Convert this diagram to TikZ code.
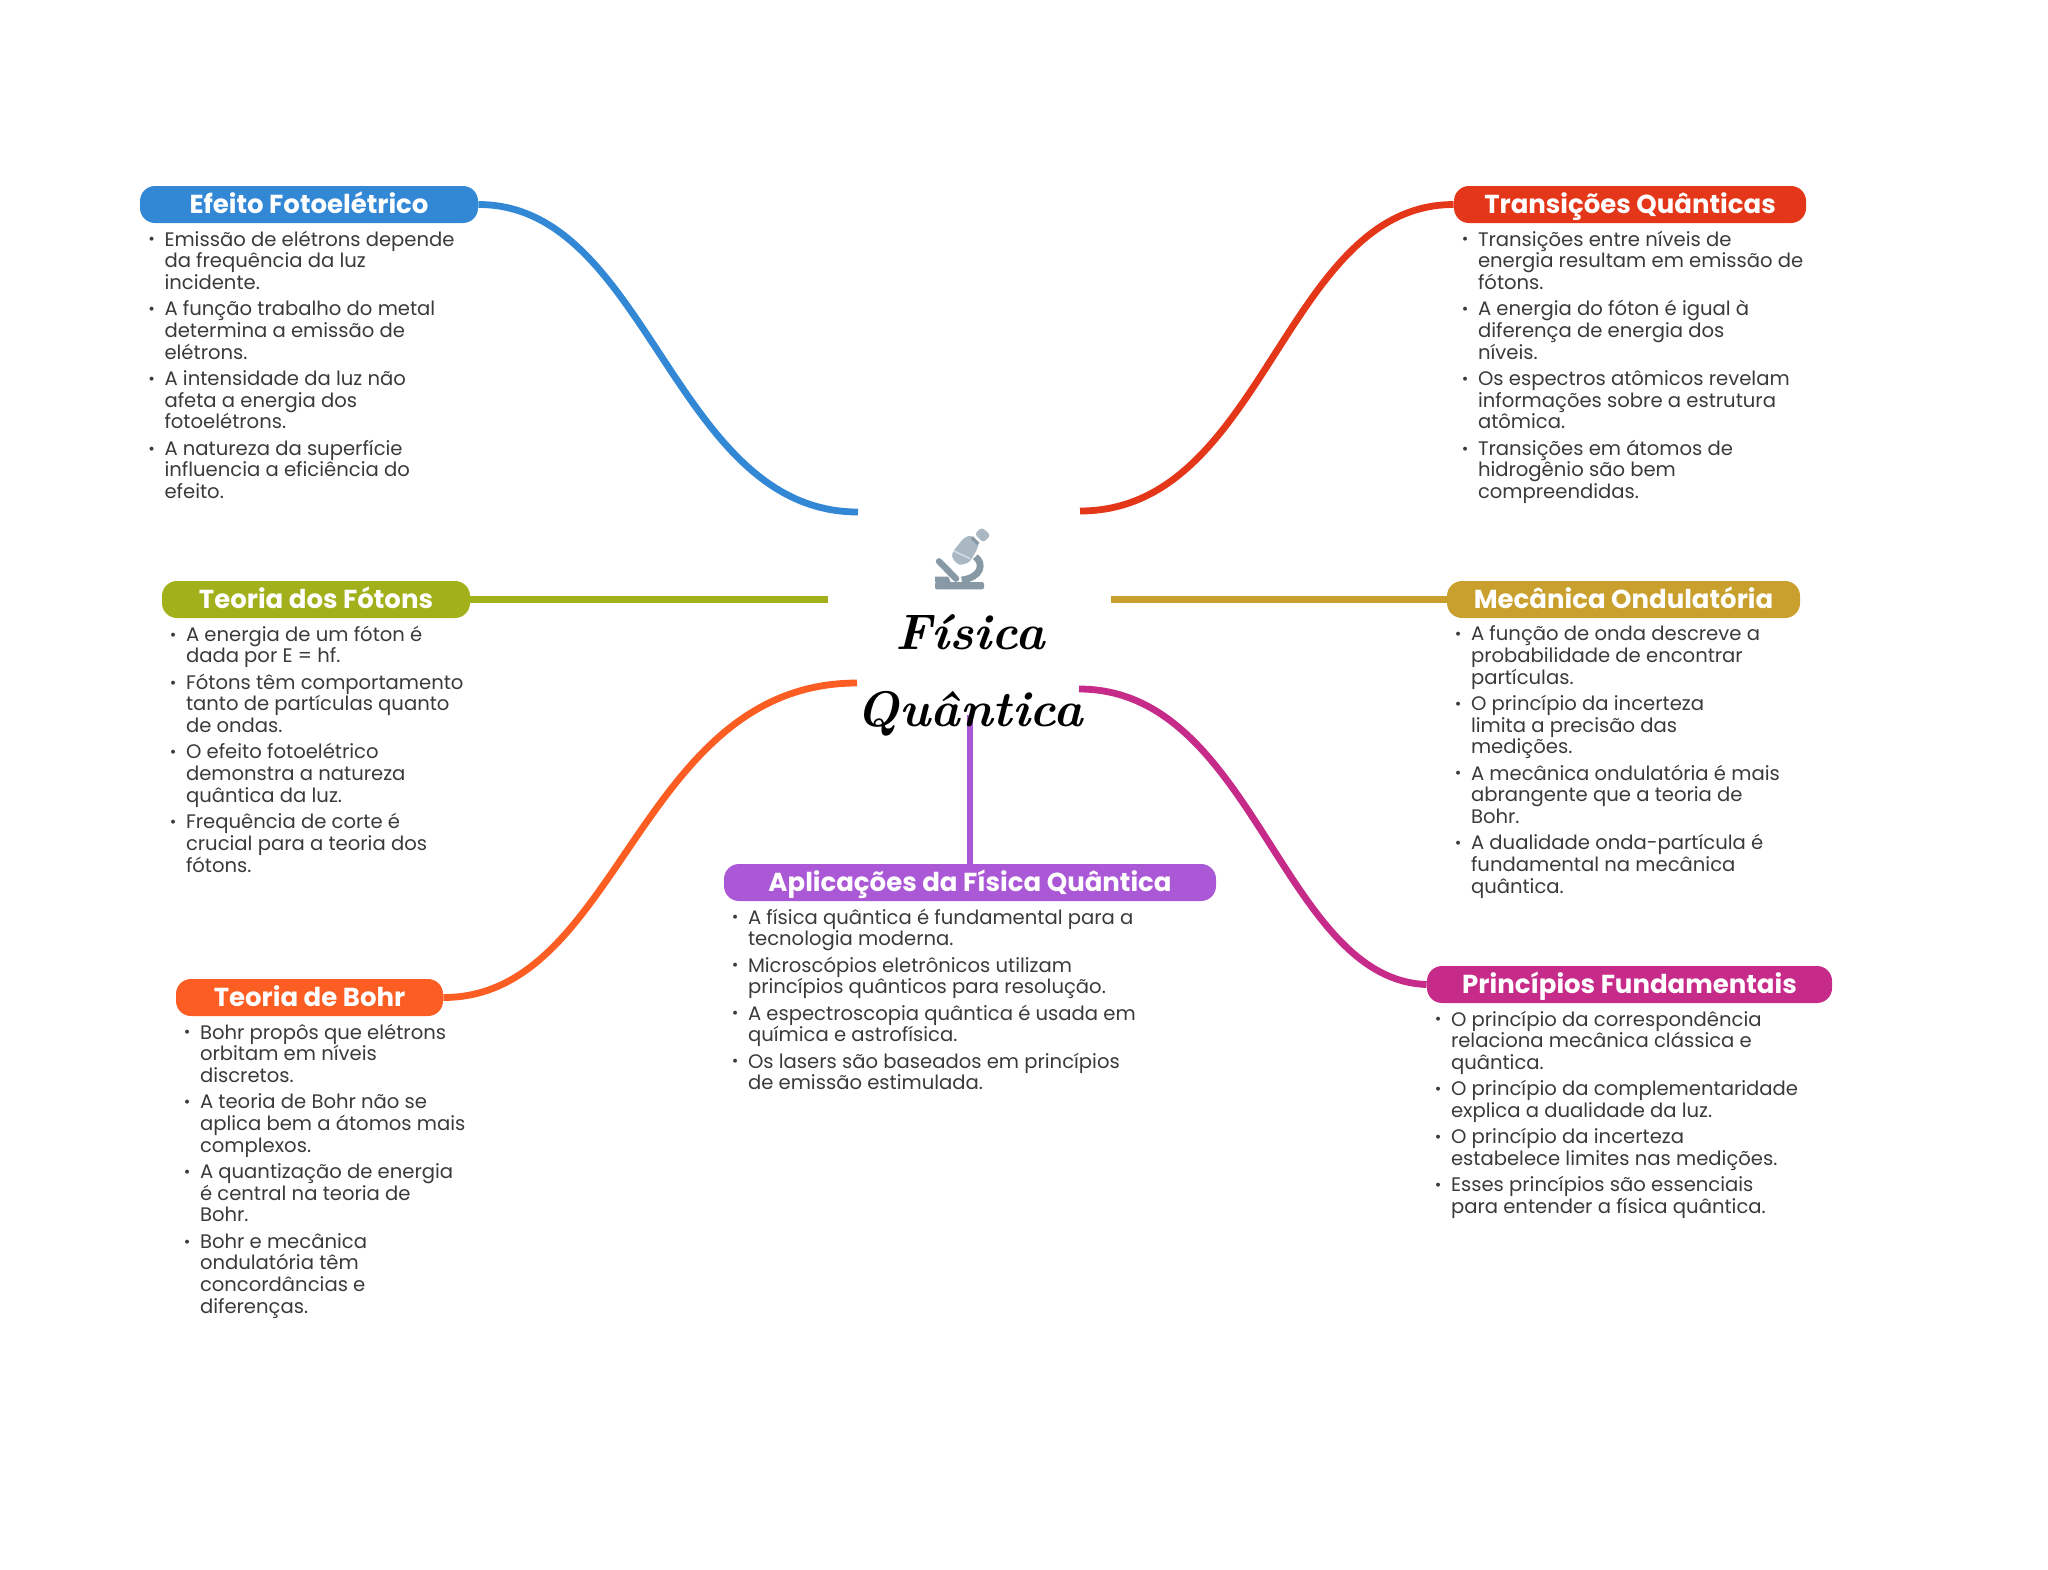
\documentclass[tikz,border=0pt]{standalone}
\usepackage{fontspec}
\newfontfamily\poppins{Poppins}
\usetikzlibrary{calc, positioning}
\definecolor{azul}{HTML}{3388D6}
\definecolor{vermelho}{HTML}{E4371A}
\definecolor{verde}{HTML}{A2B01B}
\definecolor{ouro}{HTML}{C9A02D}
\definecolor{laranja}{HTML}{FB5D22}
\definecolor{magenta2}{HTML}{C62B8A}
\definecolor{roxo}{HTML}{AB58D6}
\definecolor{corpo}{HTML}{3A3A3A}
\definecolor{tubo}{HTML}{A9B8C3}
\definecolor{base}{HTML}{8899A6}
\newcommand{\marca}{\leavevmode\llap{\raisebox{.6pt}{\fontsize{8}{8}\selectfont•}\hspace{4.8pt}}}
\begin{document}
\begin{tikzpicture}[x=0.5pt, y=-0.5pt]
    \tikzset{
      topico/.style={fill=#1, rounded corners=7.5pt, minimum height=18.5pt, inner sep=0pt,
        text height=10pt, text depth=1.5pt, text=white,
        font=\poppins\bfseries\fontsize{13}{13}\selectfont},
      lista/.style={anchor=north west, inner sep=0pt, align=left, text=corpo,
        font=\poppins\fontsize{9.8}{10.85}\selectfont},
      ligacao/.style={draw=#1, line width=3.4pt},
    }
    \useasboundingbox (0,0) rectangle (2048,1569);

    % topics
    \node [topico=azul, minimum width=169pt] (efeito) at (309,204.5) {Efeito Fotoelétrico};
    \node [topico=vermelho, minimum width=176pt] (transicoes) at (1630,204.5) {Transições Quânticas};
    \node [topico=verde, minimum width=154pt] (fotons) at (316,599.5) {Teoria dos Fótons};
    \node [topico=ouro, minimum width=176.5pt] (mecanica) at (1623.5,599.5) {Mecânica Ondulatória};
    \node [topico=roxo, minimum width=246pt] (aplicacoes) at (970,882.5) {Aplicações da Física Quântica};
    \node [topico=laranja, minimum width=133.5pt] (bohr) at (309.5,997.5) {Teoria de Bohr};
    \node [topico=magenta2, minimum width=202.5pt] (principios) at (1629.5,984.5) {Princípios Fundamentais};

    % lists
    \node [lista] (efeitoL) at ($(efeito.south west)+(24.5,7)$) {%
      \marca Emissão de elétrons depende\\ da frequência da luz\\ incidente.\\[2.3pt]
      \marca A função trabalho do metal\\ determina a emissão de\\ elétrons.\\[2.3pt]
      \marca A intensidade da luz não\\ afeta a energia dos\\ fotoelétrons.\\[2.3pt]
      \marca A natureza da superfície\\ influencia a eficiência do\\ efeito.};
    \node [lista] (transicoesL) at ($(transicoes.south west)+(24,7)$) {%
      \marca Transições entre níveis de\\ energia resultam em emissão de\\ fótons.\\[2.3pt]
      \marca A energia do fóton é igual à\\ diferença de energia dos\\ níveis.\\[2.3pt]
      \marca Os espectros atômicos revelam\\ informações sobre a estrutura\\ atômica.\\[2.3pt]
      \marca Transições em átomos de\\ hidrogênio são bem\\ compreendidas.};
    \node [lista] (fotonsL) at ($(fotons.south west)+(24,7)$) {%
      \marca A energia de um fóton é\\ dada por E = hf.\\[2.3pt]
      \marca Fótons têm comportamento\\ tanto de partículas quanto\\ de ondas.\\[2.3pt]
      \marca O efeito fotoelétrico\\ demonstra a natureza\\ quântica da luz.\\[2.3pt]
      \marca Frequência de corte é\\ crucial para a teoria dos\\ fótons.};
    \node [lista] (mecanicaL) at ($(mecanica.south west)+(24,7)$) {%
      \marca A função de onda descreve a\\ probabilidade de encontrar\\ partículas.\\[2.3pt]
      \marca O princípio da incerteza\\ limita a precisão das\\ medições.\\[2.3pt]
      \marca A mecânica ondulatória é mais\\ abrangente que a teoria de\\ Bohr.\\[2.3pt]
      \marca A dualidade onda-partícula é\\ fundamental na mecânica\\ quântica.};
    \node [lista] (aplicacoesL) at ($(aplicacoes.south west)+(24,7)$) {%
      \marca A física quântica é fundamental para a\\ tecnologia moderna.\\[2.3pt]
      \marca Microscópios eletrônicos utilizam\\ princípios quânticos para resolução.\\[2.3pt]
      \marca A espectroscopia quântica é usada em\\ química e astrofísica.\\[2.3pt]
      \marca Os lasers são baseados em princípios\\ de emissão estimulada.};
    \node [lista] (bohrL) at ($(bohr.south west)+(24,7)$) {%
      \marca Bohr propôs que elétrons\\ orbitam em níveis\\ discretos.\\[2.3pt]
      \marca A teoria de Bohr não se\\ aplica bem a átomos mais\\ complexos.\\[2.3pt]
      \marca A quantização de energia\\ é central na teoria de\\ Bohr.\\[2.3pt]
      \marca Bohr e mecânica\\ ondulatória têm\\ concordâncias e\\ diferenças.};
    \node [lista] (principiosL) at ($(principios.south west)+(24,7)$) {%
      \marca O princípio da correspondência\\ relaciona mecânica clássica e\\ quântica.\\[2.3pt]
      \marca O princípio da complementaridade\\ explica a dualidade da luz.\\[2.3pt]
      \marca O princípio da incerteza\\ estabelece limites nas medições.\\[2.3pt]
      \marca Esses princípios são essenciais\\ para entender a física quântica.};

    % connectors
    \coordinate (fimEfeito) at (858,512);
    \coordinate (fimTransicoes) at (1080,511);
    \coordinate (fimFotons) at (828,599.5);
    \coordinate (fimMecanica) at (1111,599.5);
    \coordinate (fimBohr) at (857,683);
    \coordinate (fimPrincipios) at (1079,689);
    \coordinate (fimAplicacoes) at (970,715);

    \draw [ligacao=azul] (efeito.east) .. controls +(170,0) and +(-185,0) .. (fimEfeito);
    \draw [ligacao=vermelho] (transicoes.west) .. controls +(-170,0) and +(185,0) .. (fimTransicoes);
    \draw [ligacao=verde] (fotons.east) -- (fimFotons);
    \draw [ligacao=ouro] (mecanica.west) -- (fimMecanica);
    \draw [ligacao=laranja] (bohr.east) .. controls +(177,0) and +(-220,0) .. (fimBohr);
    \draw [ligacao=magenta2] (principios.west) .. controls +(-145,-5) and +(175,0) .. (fimPrincipios);
    \draw [ligacao=roxo] (aplicacoes.north) -- (fimAplicacoes);

    % microscope
    \begin{scope}[shift={(920,520)}, x=0.5pt/3, y=-0.5pt/3]
      \fill [base, rounded corners=1pt] (45,186) rectangle (192,208);
      \fill [base] (45,170) -- (85,170) -- (92,186) -- (45,186) -- cycle;
      \draw [base, line width=3.2pt, line cap=round] (57,124) -- (108,176);
      \draw [base, line width=3.4pt] (166,110) .. controls (192,130) and (186,172) .. (125,180);
      \fill [tubo, rounded corners=1.5pt] (95,100) -- (130,55) -- (152,45) -- (178,72) -- (165,100)
        -- (147,128) -- (118,136) -- (98,118) -- cycle;
      \draw [white, opacity=.5, line width=.8pt] (100,92) -- (150,116);
      \draw [base, line width=1.6pt] (155,52) -- (175,72);
      \fill [tubo, rounded corners=1.5pt] (164,42) -- (185,22) -- (212,45) -- (190,68) -- cycle;
    \end{scope}

    % central topic
    \node [align=center, inner sep=0pt, font=\bfseries\itshape\fontsize{25}{38.5}\selectfont] (centro) at (970,675) {Física\\Quântica};
\end{tikzpicture}
\end{document}
